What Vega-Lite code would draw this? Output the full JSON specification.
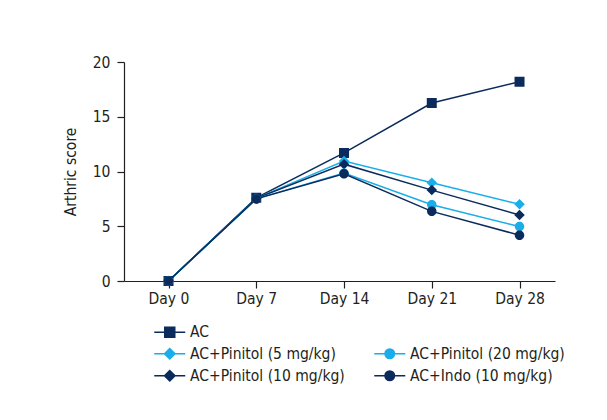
{
  "$schema": "https://vega.github.io/schema/vega-lite/v6.json",
  "width": 431,
  "height": 219,
  "autosize": {"type": "none"},
  "padding": {"left": 124, "top": 62, "right": 52, "bottom": 139},
  "background": "white",
  "config": {
    "view": {"stroke": null},
    "font": "DejaVu Sans Condensed, sans-serif"
  },
  "data": {
    "values": [
      {"day": 0, "group": "AC", "score": 0},
      {"day": 7, "group": "AC", "score": 7.6},
      {"day": 14, "group": "AC", "score": 11.7},
      {"day": 21, "group": "AC", "score": 16.25},
      {"day": 28, "group": "AC", "score": 18.2},
      {"day": 0, "group": "AC+Pinitol (5 mg/kg)", "score": 0},
      {"day": 7, "group": "AC+Pinitol (5 mg/kg)", "score": 7.55},
      {"day": 14, "group": "AC+Pinitol (5 mg/kg)", "score": 10.95},
      {"day": 21, "group": "AC+Pinitol (5 mg/kg)", "score": 8.97},
      {"day": 28, "group": "AC+Pinitol (5 mg/kg)", "score": 7.0},
      {"day": 0, "group": "AC+Pinitol (10 mg/kg)", "score": 0},
      {"day": 7, "group": "AC+Pinitol (10 mg/kg)", "score": 7.55},
      {"day": 14, "group": "AC+Pinitol (10 mg/kg)", "score": 10.67},
      {"day": 21, "group": "AC+Pinitol (10 mg/kg)", "score": 8.3},
      {"day": 28, "group": "AC+Pinitol (10 mg/kg)", "score": 6.03},
      {"day": 0, "group": "AC+Pinitol (20 mg/kg)", "score": 0},
      {"day": 7, "group": "AC+Pinitol (20 mg/kg)", "score": 7.5},
      {"day": 14, "group": "AC+Pinitol (20 mg/kg)", "score": 9.85},
      {"day": 21, "group": "AC+Pinitol (20 mg/kg)", "score": 6.97},
      {"day": 28, "group": "AC+Pinitol (20 mg/kg)", "score": 4.97},
      {"day": 0, "group": "AC+Indo (10 mg/kg)", "score": 0},
      {"day": 7, "group": "AC+Indo (10 mg/kg)", "score": 7.5},
      {"day": 14, "group": "AC+Indo (10 mg/kg)", "score": 9.8},
      {"day": 21, "group": "AC+Indo (10 mg/kg)", "score": 6.36},
      {"day": 28, "group": "AC+Indo (10 mg/kg)", "score": 4.18}
    ]
  },
  "encoding": {
    "x": {
      "field": "day",
      "type": "quantitative",
      "scale": {"domain": [-3.55, 30.83], "nice": false, "zero": false},
      "axis": {
        "title": null,
        "values": [0, 7, 14, 21, 28],
        "labelExpr": "'Day ' + datum.value",
        "grid": false,
        "domainColor": "#231f20",
        "domainWidth": 1.2,
        "tickColor": "#231f20",
        "tickSize": 7,
        "tickWidth": 1.2,
        "labelPadding": 3,
        "labelFontSize": 15.5,
        "labelColor": "#231f20",
        "labelFlush": false,
        "labelOverlap": false
      }
    },
    "y": {
      "field": "score",
      "type": "quantitative",
      "scale": {"domain": [0, 20], "nice": false},
      "axis": {
        "title": "Arthric score",
        "values": [0, 5, 10, 15, 20],
        "grid": false,
        "domainColor": "#231f20",
        "domainWidth": 1.2,
        "tickColor": "#231f20",
        "tickSize": 7,
        "tickWidth": 1.2,
        "labelPadding": 7,
        "labelFontSize": 15.5,
        "labelColor": "#231f20",
        "titleFontSize": 15.5,
        "titleFontWeight": "normal",
        "titleColor": "#231f20",
        "titlePadding": 14
      }
    },
    "color": {
      "field": "group",
      "type": "nominal",
      "scale": {
        "domain": ["AC", "AC+Pinitol (5 mg/kg)", "AC+Pinitol (10 mg/kg)", " ", "AC+Pinitol (20 mg/kg)", "AC+Indo (10 mg/kg)"],
        "range": ["#0b2b5c", "#19aeea", "#0b2b5c", "transparent", "#19aeea", "#0b2b5c"]
      },
      "legend": {
        "title": null,
        "orient": "none",
        "legendX": 38,
        "legendY": 262,
        "columns": 2,
        "columnPadding": 26,
        "rowPadding": 4,
        "padding": 0,
        "gridAlign": "each",
        "symbolSize": 100,
        "symbolStrokeWidth": 1.5,
        "symbolOpacity": 1,
        "labelOffset": 12.5,
        "labelFontSize": 15.5,
        "labelColor": "#231f20",
        "labelLimit": 300
      }
    }
  },
  "layer": [
    {"mark": {"type": "line", "strokeWidth": 1.5}},
    {
      "mark": {"type": "point", "filled": true, "opacity": 1, "size": 100},
      "encoding": {
        "shape": {
          "field": "group",
          "type": "nominal",
          "scale": {
            "domain": ["AC", "AC+Pinitol (5 mg/kg)", "AC+Pinitol (10 mg/kg)", " ", "AC+Pinitol (20 mg/kg)", "AC+Indo (10 mg/kg)"],
            "range": [
              "M-3.1,0H3.1M-1,-1H1V1H-1Z",
              "M-3.1,0H3.1M-1.05,0L0,-1.05L1.05,0L0,1.05Z",
              "M-3.1,0H3.1M-1.05,0L0,-1.05L1.05,0L0,1.05Z",
              "M0,0",
              "M-3.1,0H3.1M-0.95,0A0.95,0.95,0,1,0,0.95,0A0.95,0.95,0,1,0,-0.95,0Z",
              "M-3.1,0H3.1M-0.95,0A0.95,0.95,0,1,0,0.95,0A0.95,0.95,0,1,0,-0.95,0Z"
            ]
          },
          "legend": null
        }
      }
    }
  ]
}
